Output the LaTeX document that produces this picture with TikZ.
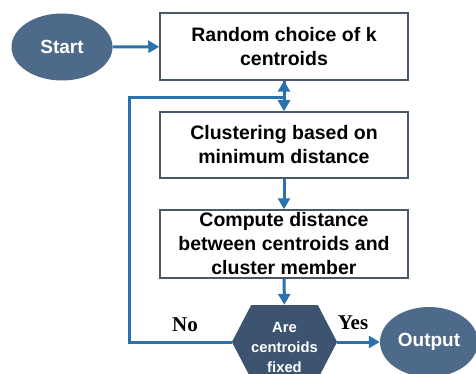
\documentclass[tikz,border=0pt]{standalone}
\usepackage{fontspec}
\setmainfont{Liberation Serif}
\setsansfont{Liberation Sans}
\usepackage{tikz}
\usetikzlibrary{shapes.geometric,shapes.symbols,arrows.meta}

\definecolor{ovalblue}{HTML}{4E6A8A}
\definecolor{hexblue}{HTML}{3C5470}
\definecolor{linkblue}{HTML}{2B71AE}
\definecolor{boxedge}{HTML}{4A586A}

\begin{document}
\begin{tikzpicture}[x=1pt,y=-1pt,
  stepbox/.style={draw=boxedge,line width=1.5pt,fill=white,minimum width=248pt,
    minimum height=67pt,inner sep=1pt,align=center,
    font=\sffamily\bfseries\fontsize{19.5}{24}\selectfont},
  oval/.style={ellipse,fill=ovalblue,text=white,inner sep=0pt,
    font=\sffamily\bfseries\fontsize{19}{22}\selectfont},
  flow/.style={draw=linkblue,line width=3pt,
    -{Triangle[length=11pt,width=12pt]}}]
  \clip (0,0) rectangle (476,374);
  % Nodes
  \node[oval,minimum width=101pt,minimum height=67pt] (start) at (62,47) {Start};
  \node[stepbox] (choose) at (284,46.5) {Random choice of k\\centroids};
  \node[stepbox,minimum height=66pt] (assign) at (284,145) {Clustering based on\\minimum distance};
  \node[stepbox,minimum height=68pt] (dist) at (284,244) {Compute distance\\between centroids and\\cluster member};
  \node[signal,signal to=east and west,signal pointer angle=125,fill=hexblue,
    text=white,minimum width=101pt,minimum height=74pt,inner sep=0pt,align=center,
    font=\sffamily\bfseries\fontsize{14.8}{20}\selectfont] (test) at (284.5,342)
    {\rule{0pt}{21pt}Are\\centroids\\fixed};
  \node[oval,minimum width=98pt,minimum height=70pt] (out) at (429,342) {Output};
  % Branch labels
  \node[font=\bfseries\fontsize{21}{24}\selectfont] (no) at (185,325) {No};
  \node[font=\bfseries\fontsize{21}{24}\selectfont] (yes) at (353,323) {Yes};
  % Connectors
  \coordinate (loop) at (129,98);
  \draw[flow] (start) -- (choose);
  \draw[flow] (choose) -- (assign);
  \draw[flow] (assign) -- (dist);
  \draw[flow] (dist) -- (test);
  \draw[flow] (test.east) -- (out.west);
  \draw[flow] (test.west) -| (loop) -- (loop -| choose.south) -- (choose.south);
\end{tikzpicture}
\end{document}
